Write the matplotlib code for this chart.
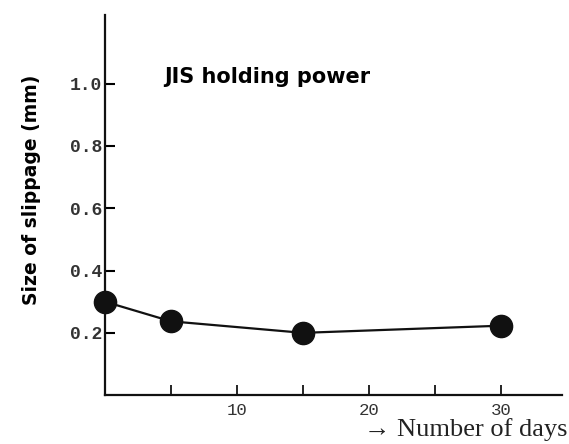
import matplotlib
matplotlib.use("Agg")
import matplotlib.pyplot as plt

# values
days = [0, 5, 15, 30]
slippage = [0.30, 0.237, 0.20, 0.223]
y_ticks = [0.2, 0.4, 0.6, 0.8, 1.0]
y_tick_labels = ["0.2", "0.4", "0.6", "0.8", "1.0"]
x_major = [10, 20, 30]
x_minor = [5, 15, 25]

fig = plt.figure(figsize=(5.69, 4.44), dpi=100)
ax = fig.add_axes([0.1845, 0.11, 0.803, 0.856])

ax.plot(days, slippage, color="#111111", lw=1.6, marker="o",
        markersize=16, markerfacecolor="#111111", markeredgecolor="#111111",
        clip_on=False, zorder=3)

ax.set_xlim(0, 34.6)
ax.set_ylim(0, 1.22)

for s in ["top", "right"]:
    ax.spines[s].set_visible(False)
for s in ["left", "bottom"]:
    ax.spines[s].set_linewidth(1.6)
    ax.spines[s].set_color("#111111")

ax.set_yticks(y_ticks)
ax.set_yticklabels(y_tick_labels, family="Liberation Mono", fontsize=13,
                   fontweight="bold", color="#333333")
ax.set_xticks(x_major)
ax.set_xticklabels([str(v) for v in x_major], family="Liberation Mono",
                   fontsize=12.5, color="#333333")
ax.set_xticks(x_minor, minor=True)
ax.tick_params(axis="y", direction="in", length=7, width=1.5, pad=2)
ax.tick_params(axis="x", which="both", direction="in", length=7, width=1.2, pad=6)

ax.set_ylabel("Size of slippage (mm)", fontsize=13.5, fontweight="bold",
              family="DejaVu Sans")
ax.yaxis.set_label_coords(-0.14, 0.54)

ax.text(4.5, 1.02, "JIS holding power", fontsize=15, fontweight="bold",
        family="DejaVu Sans", va="center", ha="left")

fig.text(0.997, 0.032, "\u2192 Number of days", family="Liberation Serif",
         fontsize=19, ha="right", va="center", color="#222222")

fig.savefig("out.png", dpi=100)
